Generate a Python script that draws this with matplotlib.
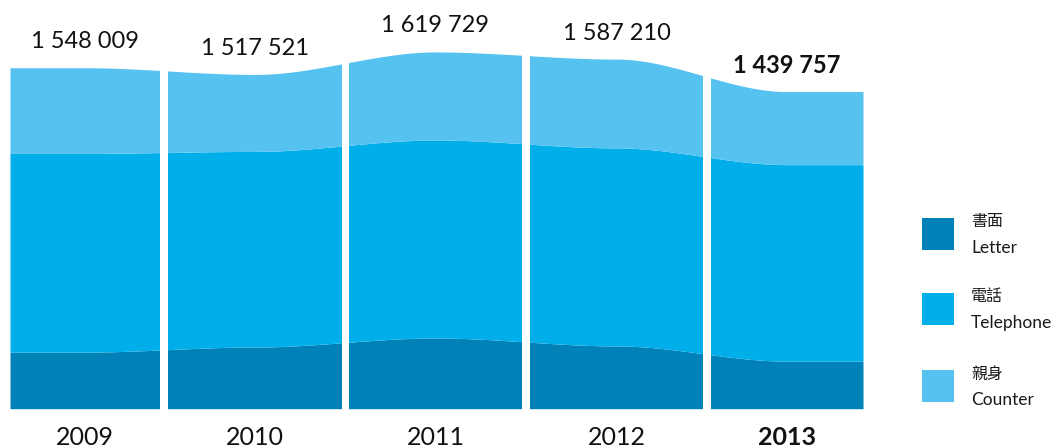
import numpy as np
import matplotlib
matplotlib.use("Agg")
import matplotlib.pyplot as plt
from matplotlib.patches import Rectangle

# ---------------- data ----------------
years = ["2009", "2010", "2011", "2012", "2013"]
totals = [1548009, 1517521, 1619729, 1587210, 1439757]
total_labels = ["1 548 009", "1 517 521", "1 619 729", "1 587 210", "1 439 757"]
letter = [257000, 280000, 321000, 285000, 216000]
telephone = [902000, 888000, 899000, 899000, 892000]
counter = [389000, 349500, 399700, 403200, 331800]
series_zh = ["書面", "電話", "親身"]
series_en = ["Letter", "Telephone", "Counter"]
colors = ["#0082B9", "#00AEEA", "#55C2F0"]

# ---------------- layout ----------------
W, H = 1056, 447
seg_edges = [(10, 160), (168, 342), (349, 522), (530, 703), (711, 863)]
centers = np.array([(a + b) / 2 for a, b in seg_edges])
per_px = 4540.0
base_px = 408.7

plt.rcParams['font.family'] = ['Lato', 'Noto Sans CJK TC', 'DejaVu Sans']

fig = plt.figure(figsize=(W / 100, H / 100), dpi=100)
ax = fig.add_axes([10 / W, 0, (863 - 10) / W, 1])
ax.set_xlim(10, 863)
ax.set_ylim(-(H - base_px) * per_px, base_px * per_px)
ax.set_axis_off()


def smooth_interp(xq, xp, fp):
    xp = np.asarray(xp, float)
    fp = np.asarray(fp, float)
    idx = np.clip(np.searchsorted(xp, xq) - 1, 0, len(xp) - 2)
    t = np.clip((xq - xp[idx]) / (xp[idx + 1] - xp[idx]), 0, 1)
    s = t * t * (3 - 2 * t)
    return fp[idx] + s * (fp[idx + 1] - fp[idx])


xd = np.linspace(10, 863, 3000)
layers = [letter, telephone, counter]
cum = np.zeros(len(years))
lower = np.zeros_like(xd)
for vals, col in zip(layers, colors):
    cum = cum + np.array(vals, float)
    upper = smooth_interp(xd, centers, cum)
    ax.fill_between(xd, lower, upper, color=col, linewidth=0)
    lower = upper

# white gaps between years
for (a0, b0), (a1, b1) in zip(seg_edges[:-1], seg_edges[1:]):
    ax.axvspan(b0, a1, color="white", zorder=5, linewidth=0)

# labels
for i, (c, tot, lab, yr) in enumerate(zip(centers, totals, total_labels, years)):
    bold = (i == len(years) - 1)
    ax.annotate(lab, (c, tot), xytext=(0, 26), textcoords="offset pixels",
                ha="center", va="center", fontsize=17,
                fontweight="bold" if bold else "normal", color="#111111")
    ax.annotate(yr, (c, 0), xytext=(0, -29), textcoords="offset pixels",
                ha="center", va="center", fontsize=18,
                fontweight="bold" if bold else "normal", color="#111111",
                annotation_clip=False)

# legend
leg_tops = [218, 293, 370]
for top, col, zh, en in zip(leg_tops, colors, series_zh, series_en):
    fig.add_artist(Rectangle((922 / W, 1 - (top + 32) / H), 32 / W, 32 / H,
                             transform=fig.transFigure, color=col, linewidth=0))
    fig.text(971 / W, 1 - (top + 4) / H, zh, fontsize=11.5, ha="left", va="center",
             family=['Noto Sans CJK TC', 'DejaVu Sans'], fontweight="medium",
             color="#1a1a1a")
    fig.text(971 / W, 1 - (top + 30) / H, en, fontsize=12.5, ha="left", va="center",
             color="#1a1a1a")

fig.savefig("out.png", dpi=100)
